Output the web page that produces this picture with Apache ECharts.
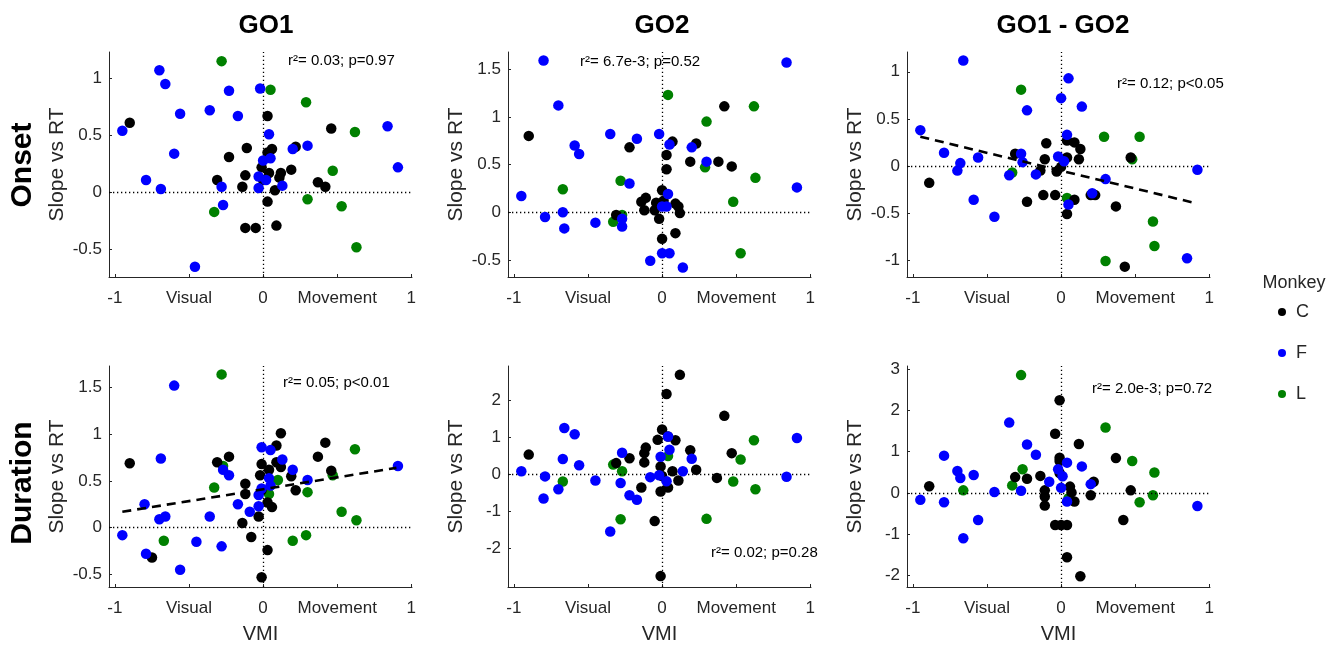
<!DOCTYPE html>
<html>
<head>
<meta charset="utf-8">
<title>Slope vs RT</title>
<script src="https://cdn.jsdelivr.net/npm/echarts@6/dist/echarts.min.js"></script>
<style>
  html, body { margin: 0; padding: 0; background: #fff; }
  #chart { width: 1327px; height: 645px; }
</style>
</head>
<body>
<div id="chart"></div>
<script>
// tick values on the VMI axis and their labels
const xTickValues = [-1, -0.5, 0, 0.5, 1];
const xTickLabels = ['-1', 'Visual', '0', 'Movement', '1'];

const colTitles = ['GO1', 'GO2', 'GO1 - GO2'];
const rowTitles = ['Onset', 'Duration'];
const monkeys = ['C', 'F', 'L'];

// [VMI, slope vs RT] per neuron
const onsetGo1C = [[-0.90,0.61],[-0.11,0.39],[-0.23,0.31],[-0.31,0.11],[-0.12,0.15],[-0.14,0.05],[-0.01,0.22],[0.03,0.67],[0.03,0.35],[0.06,0.38],[0.04,0.17],[0.00,0.11],[0.12,0.17],[0.11,0.13],[0.08,0.02],[0.03,-0.08],[0.19,0.20],[0.22,0.40],[0.37,0.09],[0.42,0.05],[0.46,0.56],[-0.12,-0.31],[-0.05,-0.31],[0.09,-0.29]];
const onsetGo1F = [[-0.70,1.07],[-0.66,0.95],[-0.23,0.89],[-0.02,0.91],[-0.56,0.69],[-0.36,0.72],[-0.17,0.67],[-0.95,0.54],[-0.60,0.34],[-0.79,0.11],[-0.69,0.03],[-0.46,-0.65],[-0.28,0.05],[-0.27,-0.11],[0.04,0.51],[0.00,0.28],[0.05,0.30],[0.20,0.38],[0.30,0.41],[-0.03,0.14],[0.02,0.11],[-0.03,0.04],[0.13,0.06],[0.84,0.58],[0.91,0.22]];
const onsetGo1L = [[-0.28,1.15],[0.05,0.90],[0.29,0.79],[0.62,0.53],[0.47,0.19],[0.30,-0.06],[0.53,-0.12],[0.63,-0.48],[-0.33,-0.17]];

const onsetGo2C = [[-0.90,0.80],[0.42,1.11],[-0.22,0.68],[0.07,0.74],[0.23,0.72],[0.03,0.60],[0.03,0.45],[0.19,0.53],[0.38,0.53],[0.47,0.48],[0.00,0.23],[-0.11,0.15],[-0.14,0.11],[-0.12,0.02],[-0.05,0.02],[-0.04,0.10],[0.01,0.12],[0.09,0.09],[0.11,0.06],[0.12,-0.01],[-0.31,-0.03],[-0.02,-0.07],[0.00,-0.28],[0.09,-0.22]];
const onsetGo2F = [[-0.80,1.59],[0.84,1.57],[-0.70,1.12],[-0.35,0.82],[-0.17,0.77],[-0.02,0.82],[-0.59,0.70],[-0.56,0.61],[0.05,0.71],[0.20,0.68],[0.30,0.53],[-0.22,0.30],[-0.95,0.17],[0.91,0.26],[-0.79,-0.05],[-0.67,0.00],[-0.66,-0.17],[-0.45,-0.11],[-0.27,-0.07],[-0.27,-0.15],[0.04,0.19],[0.00,0.06],[0.03,0.06],[0.00,-0.43],[0.05,-0.43],[-0.08,-0.51],[0.14,-0.58]];
const onsetGo2L = [[0.04,1.23],[0.62,1.11],[0.30,0.95],[0.29,0.47],[0.63,0.36],[-0.67,0.24],[-0.28,0.33],[0.48,0.11],[-0.33,-0.10],[-0.27,-0.03],[0.53,-0.43]];

const onsetDiffC = [[-0.89,-0.18],[-0.31,0.13],[-0.10,0.24],[-0.11,0.07],[-0.14,-0.05],[-0.03,-0.06],[0.00,-0.01],[0.04,0.27],[0.04,0.09],[0.09,0.25],[0.13,0.18],[0.12,0.07],[-0.23,-0.38],[-0.12,-0.31],[-0.04,-0.31],[0.09,-0.36],[0.04,-0.51],[0.20,-0.31],[0.23,-0.31],[0.37,-0.43],[0.47,0.09],[0.43,-1.07]];
const onsetDiffF = [[-0.66,1.12],[0.05,0.93],[0.00,0.72],[0.14,0.63],[-0.23,0.59],[-0.95,0.38],[0.04,0.33],[-0.79,0.14],[-0.56,0.09],[-0.68,0.03],[-0.70,-0.05],[-0.27,0.13],[-0.26,0.04],[-0.02,0.10],[0.02,0.05],[-0.35,-0.10],[-0.17,-0.09],[0.92,-0.04],[0.30,-0.14],[-0.59,-0.36],[-0.45,-0.54],[0.05,-0.41],[0.21,-0.29],[0.85,-0.98]];
const onsetDiffL = [[-0.27,0.81],[0.29,0.31],[0.53,0.31],[-0.33,-0.07],[0.48,0.07],[0.04,-0.34],[0.62,-0.59],[0.63,-0.85],[0.30,-1.01]];

const durGo1C = [[-0.90,0.69],[-0.75,-0.32],[-0.31,0.70],[-0.23,0.76],[-0.12,0.47],[-0.12,0.36],[-0.14,0.05],[-0.08,-0.10],[-0.03,0.12],[-0.01,0.40],[-0.02,0.56],[-0.01,0.68],[0.04,0.62],[0.03,0.27],[0.06,0.22],[0.03,-0.24],[-0.01,-0.53],[0.09,0.88],[0.12,1.01],[0.09,0.70],[0.12,0.65],[0.19,0.55],[0.22,0.40],[0.37,0.76],[0.42,0.91],[0.46,0.61]];
const durGo1F = [[-0.60,1.52],[-0.69,0.74],[-0.80,0.25],[-0.70,0.09],[-0.66,0.12],[-0.95,-0.08],[-0.79,-0.28],[-0.56,-0.45],[-0.45,-0.15],[-0.28,-0.20],[-0.36,0.12],[-0.27,0.62],[-0.23,0.56],[-0.17,0.25],[-0.09,0.17],[-0.03,0.23],[-0.03,0.35],[-0.01,0.42],[-0.01,0.86],[0.05,0.83],[0.04,0.53],[0.05,0.45],[0.13,0.73],[0.20,0.62],[0.30,0.51],[0.91,0.66]];
const durGo1L = [[-0.28,1.64],[-0.33,0.43],[-0.27,0.66],[-0.67,-0.14],[0.04,0.36],[0.10,0.51],[0.30,0.38],[0.20,-0.14],[0.29,-0.08],[0.47,0.56],[0.62,0.84],[0.53,0.17],[0.63,0.08]];

const durGo2C = [[0.12,2.69],[0.03,2.17],[0.42,1.58],[0.00,1.21],[-0.03,0.93],[0.04,1.02],[0.09,0.92],[-0.90,0.53],[-0.11,0.72],[-0.12,0.57],[-0.22,0.43],[-0.31,0.30],[-0.12,0.32],[0.19,0.65],[0.47,0.57],[0.23,0.12],[0.07,0.08],[-0.01,0.21],[0.00,-0.05],[0.11,-0.17],[-0.14,-0.36],[0.04,-0.36],[-0.01,-0.47],[0.37,-0.10],[-0.05,-1.27],[-0.01,-2.76]];
const durGo2F = [[-0.66,1.25],[-0.59,1.08],[-0.67,0.41],[-0.56,0.24],[-0.95,0.08],[-0.79,-0.06],[-0.70,-0.41],[-0.80,-0.66],[-0.45,-0.17],[-0.27,0.58],[-0.28,-0.24],[-0.22,-0.57],[-0.17,-0.69],[-0.35,-1.55],[-0.08,-0.08],[-0.02,-0.03],[-0.01,0.47],[0.04,1.02],[0.05,0.66],[0.03,-0.19],[0.14,0.08],[0.20,0.42],[0.84,-0.07],[0.91,0.98]];
const durGo2L = [[-0.33,0.26],[-0.27,0.08],[-0.67,-0.20],[-0.28,-1.22],[0.04,0.49],[0.30,-1.21],[0.48,-0.20],[0.53,0.40],[0.62,0.92],[0.63,-0.41]];

const durDiffC = [[-0.01,2.24],[-0.04,1.43],[0.12,1.18],[-0.01,0.85],[-0.01,0.77],[-0.01,0.48],[0.37,0.84],[-0.89,0.16],[-0.31,0.38],[-0.23,0.34],[-0.14,0.41],[-0.11,0.06],[-0.11,-0.09],[-0.11,-0.31],[0.06,0.15],[0.07,0.01],[0.09,-0.21],[0.20,-0.06],[0.22,0.27],[0.47,0.06],[0.42,-0.66],[-0.04,-0.78],[0.00,-0.78],[0.04,-0.78],[0.04,-1.56],[0.13,-2.02]];
const durDiffF = [[-0.35,1.70],[-0.23,1.17],[-0.17,0.92],[-0.79,0.90],[-0.70,0.53],[-0.68,0.36],[-0.59,0.43],[-0.95,-0.17],[-0.79,-0.23],[-0.56,-0.66],[-0.66,-1.10],[-0.45,0.02],[-0.27,0.05],[-0.08,0.27],[-0.02,0.57],[0.01,0.40],[0.04,0.73],[0.14,0.64],[0.00,0.12],[0.04,-0.21],[0.20,0.21],[0.92,-0.32]];
const durDiffL = [[-0.27,2.85],[0.30,1.58],[0.48,0.77],[0.63,0.49],[-0.26,0.57],[-0.33,0.18],[-0.66,0.06],[0.05,-0.13],[0.53,-0.23],[0.62,-0.06]];

// significant regression fits (endpoints)
const onsetDiffFit = [[-0.95,0.31],[0.92,-0.40]];
const durGo1Fit = [[-0.95,0.17],[0.90,0.64]];

const statLabels = ['r²= 0.03; p=0.97', 'r²= 6.7e-3; p=0.52', 'r²= 0.12; p<0.05',
                    'r²= 0.05; p<0.01', 'r²= 0.02; p=0.28', 'r²= 2.0e-3; p=0.72'];

// y axis ranges and ticks per panel
const yMins = [-0.74, -0.68, -1.18, -0.635, -3.055, -2.28];
const yMaxs = [1.23, 1.68, 1.21, 1.73, 2.93, 3.07];
const yTicks = [[-0.5, 0, 0.5, 1], [-0.5, 0, 0.5, 1, 1.5], [-1, -0.5, 0, 0.5, 1],
                [-0.5, 0, 0.5, 1, 1.5], [-2, -1, 0, 1, 2], [-2, -1, 0, 1, 2, 3]];

const panels = [
  { C: onsetGo1C, F: onsetGo1F, L: onsetGo1L },
  { C: onsetGo2C, F: onsetGo2F, L: onsetGo2L },
  { C: onsetDiffC, F: onsetDiffF, L: onsetDiffL, fit: onsetDiffFit },
  { C: durGo1C, F: durGo1F, L: durGo1L, fit: durGo1Fit },
  { C: durGo2C, F: durGo2F, L: durGo2L },
  { C: durDiffC, F: durDiffF, L: durDiffL }
];

const FONT = '"Liberation Sans", Arial, Helvetica, sans-serif';
const AXIS_COLOR = '#262626';
const colors = { C: '#000000', F: '#0000ff', L: '#008000' };

const colLefts = [109, 508, 907];
const rowTops = [52, 366];
const rowHeights = [225, 225.5];
const statPos = [[288, 61], [580, 62], [1117, 84], [283, 383], [711, 553], [1092, 389]];

const chart = echarts.init(document.getElementById('chart'));

const grid = [], xAxis = [], yAxis = [], series = [], graphic = [];

panels.forEach((p, i) => {
  const row = Math.floor(i / 3), col = i % 3;
  grid.push({ left: colLefts[col], top: rowTops[row], width: 303, height: rowHeights[row] });

  xAxis.push({
    gridIndex: i, type: 'value', min: -1.04, max: 1.005,
    name: row === 1 ? 'VMI' : '', nameLocation: 'middle', nameGap: 37,
    nameTextStyle: { fontSize: 20, color: AXIS_COLOR, fontFamily: FONT },
    axisLine: { show: true, onZero: false, lineStyle: { color: AXIS_COLOR, width: 1 } },
    axisTick: { show: true, inside: true, length: 3, customValues: xTickValues, lineStyle: { color: AXIS_COLOR } },
    axisLabel: {
      customValues: xTickValues, color: AXIS_COLOR, fontSize: 17, margin: 13, fontFamily: FONT,
      formatter: v => xTickLabels[xTickValues.indexOf(v)]
    },
    splitLine: { show: false }
  });

  yAxis.push({
    gridIndex: i, type: 'value', min: yMins[i], max: yMaxs[i],
    name: 'Slope vs RT', nameLocation: 'middle', nameRotate: 90, nameGap: 41,
    nameTextStyle: { fontSize: 21, color: AXIS_COLOR, fontFamily: FONT },
    axisLine: { show: true, onZero: false, lineStyle: { color: AXIS_COLOR, width: 1 } },
    axisTick: { show: true, inside: true, length: 3, customValues: yTicks[i], lineStyle: { color: AXIS_COLOR } },
    axisLabel: { customValues: yTicks[i], color: AXIS_COLOR, fontSize: 17, margin: 7, fontFamily: FONT },
    splitLine: { show: false }
  });

  // draw green, black, then blue on top
  ['L', 'C', 'F'].forEach((m, k) => {
    const s = {
      name: m, type: 'scatter', xAxisIndex: i, yAxisIndex: i,
      data: p[m], symbol: 'circle', symbolSize: 10.5,
      itemStyle: { color: colors[m], opacity: 1 },
      z: 3 + k
    };
    if (k === 0) {
      s.markLine = {
        silent: true, symbol: ['none', 'none'], label: { show: false },
        lineStyle: { color: '#000', type: [1.3, 2.7], width: 1.3 },
        emphasis: { disabled: true },
        data: [{ yAxis: 0 }, { xAxis: 0 }]
      };
    }
    series.push(s);
  });

  if (p.fit) {
    series.push({
      name: 'fit' + i, type: 'line', xAxisIndex: i, yAxisIndex: i,
      data: p.fit, symbol: 'none', z: 10,
      lineStyle: { color: '#000', width: 2.6, type: [9, 6] }
    });
  }

  graphic.push({
    type: 'text', x: statPos[i][0], y: statPos[i][1], z: 20,
    style: { text: statLabels[i], font: '15px ' + FONT, fill: '#000',
             align: 'left', verticalAlign: 'middle', textAlign: 'left', textVerticalAlign: 'middle' }
  });
});

const titleX = [266, 662, 1063];
colTitles.forEach((t, c) => {
  graphic.push({
    type: 'text', x: titleX[c], y: 26,
    style: { text: t, font: 'bold 26px ' + FONT, fill: '#000',
             align: 'center', verticalAlign: 'middle', textAlign: 'center', textVerticalAlign: 'middle' }
  });
});

const rowY = [165, 483];
rowTitles.forEach((t, r) => {
  graphic.push({
    type: 'text', x: 23, y: rowY[r], rotation: Math.PI / 2,
    style: { text: t, font: 'bold 30px ' + FONT, fill: '#000',
             align: 'center', verticalAlign: 'middle', textAlign: 'center', textVerticalAlign: 'middle' }
  });
});

graphic.push({
  type: 'text', x: 1294, y: 283,
  style: { text: 'Monkey', font: '18px ' + FONT, fill: AXIS_COLOR,
           align: 'center', verticalAlign: 'middle', textAlign: 'center', textVerticalAlign: 'middle' }
});

chart.setOption({
  animation: false,
  backgroundColor: '#fff',
  textStyle: { fontFamily: FONT },
  grid, xAxis, yAxis, series, graphic,
  legend: {
    data: monkeys, orient: 'vertical', left: 1273, top: 298,
    itemWidth: 8, itemHeight: 8, itemGap: 23, icon: 'circle', selectedMode: false,
    textStyle: { fontSize: 18, color: AXIS_COLOR, fontFamily: FONT, padding: [0, 0, 0, 5] }
  }
});
</script>
</body>
</html>
